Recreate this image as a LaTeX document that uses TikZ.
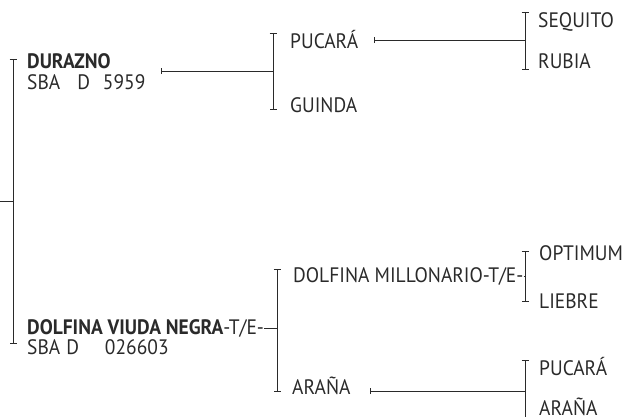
\documentclass[tikz,border=0pt]{standalone}
\usepackage{fontspec}
\setmainfont[FakeStretch=0.93]{PT Sans}
\usetikzlibrary{arrows.meta}
\definecolor{ink}{HTML}{2A2A2A}

\tikzset{
  line/.style={draw=ink, line width=0.9bp}, % connector lines
  bracket/.style={line, {Bar[width=7bp]}-{Bar[width=7bp]}}, % vertical brackets
  stub/.style={line, {Bar[width=6bp]}-}, % line with a tick at its start
  horse/.style={anchor=base west, inner sep=0pt, text=ink,
    font=\fontsize{21}{23}\selectfont} % horse names
}

\begin{document}
\begin{tikzpicture}[x=1bp,y=-1bp]
    \useasboundingbox (0,0) rectangle (624,416);
    \clip (0,0) rectangle (624,416);

    % root bracket
    \coordinate (in) at (0,201);
    \coordinate (rootT) at (13,59);
    \coordinate (rootB) at (13,344);

    % sire side
    \node[horse] (durazno) at (27,68) {\bfseries DURAZNO};
    \node[horse] (sbaA) at (27,89) {SBA\hspace{17bp}D\hspace{13bp}5959};
    \coordinate (tickA) at (161,71);
    \coordinate (brA) at (273,33);
    \coordinate (brB) at (273,110);
    \node[horse] (pucaraA) at (290,48) {PUCARÁ};
    \node[horse] (guinda) at (290,112) {GUINDA};
    \coordinate (tickB) at (374,40);
    \coordinate (brC) at (525,12);
    \coordinate (brD) at (525,70);
    \node[horse] (sequito) at (538,27) {SEQUITO};
    \node[horse] (rubia) at (538,68) {RUBIA};

    % dam side
    \node[horse] (viuda) at (27,334) {{\bfseries DOLFINA VIUDA NEGRA}-T/E-};
    \node[horse] (sbaB) at (27,354) {SBA\hspace{6bp}D\hspace{26bp}026603};
    \coordinate (brE) at (277,269);
    \coordinate (brF) at (277,392);
    \node[horse] (millonario) at (293,282) {DOLFINA MILLONARIO-T/E-};
    \node[horse] (aranaA) at (292,394) {ARAÑA};
    \coordinate (brG) at (525,251);
    \coordinate (brH) at (525,302);
    \node[horse] (optimum) at (539,260) {OPTIMUM};
    \node[horse] (liebre) at (539,308) {LIEBRE};
    \coordinate (tickC) at (370,391);
    \coordinate (brI) at (525,360);
    \coordinate (brJ) at (525,422);
    \node[horse] (pucaraB) at (539,375) {PUCARÁ};
    \node[horse] (aranaB) at (539,415) {ARAÑA};

    % ends of the dashes after T/E
    \coordinate (viudaEnd) at ([yshift=5.5bp]viuda.base east);
    \coordinate (millEnd) at ([yshift=5.5bp]millonario.base east);

    \draw[line] (in) -- (rootT |- in);
    \draw[stub] (tickA) -- (brA |- tickA);
    \draw[stub] (tickB) -- (brC |- tickB);
    \draw[line] (viudaEnd) -- (brE |- viudaEnd);
    \draw[line] (millEnd) -- (brG |- millEnd);
    \draw[stub] (tickC) -- (brI |- tickC);
    \foreach \t/\b in {rootT/rootB,brA/brB,brC/brD,brE/brF,brG/brH,brI/brJ} {
      \draw[bracket] (\t) -- (\b);
    }
\end{tikzpicture}
\end{document}
